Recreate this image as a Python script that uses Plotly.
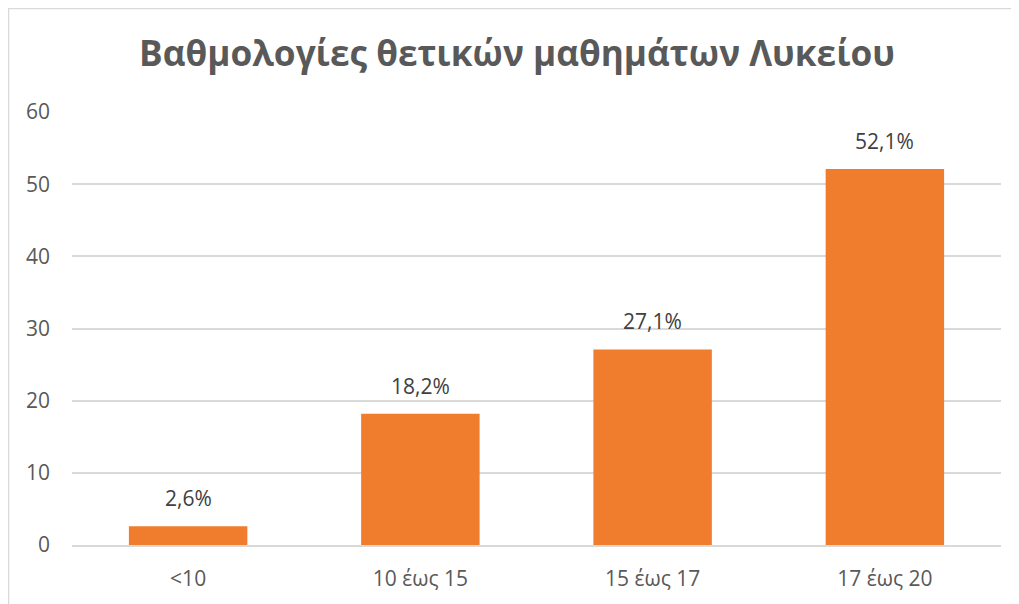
import plotly.graph_objects as go

categories = ["<10", "10 έως 15", "15 έως 17", "17 έως 20"]
values = [2.6, 18.2, 27.1, 52.1]
labels = ["2,6%", "18,2%", "27,1%", "52,1%"]
y_ticks = [0, 10, 20, 30, 40, 50, 60]

# page body has an 8px margin; figure offsets compensate for it
W, H = 1019, 604
L, R, T, B = 64, 26, 104, 67
pw, ph = W - L - R, H - T - B

FONT = "Open Sans"

fig = go.Figure()
fig.add_trace(go.Bar(
    x=categories, y=values,
    marker=dict(color="#F07C2D", line=dict(width=0)),
    width=0.51,
))

for c, v, t in zip(categories, values, labels):
    fig.add_annotation(x=c, y=v, text=t, showarrow=False, yanchor="bottom",
                       yshift=12, font=dict(family=FONT, size=21, color="#404040"))

fig.update_layout(
    width=W, height=H,
    margin=dict(l=L, r=R, t=T, b=B),
    paper_bgcolor="white", plot_bgcolor="white",
    showlegend=False,
    title=dict(text="<b>Βαθμολογίες θετικών μαθημάτων Λυκείου</b>",
               x=(517 - 8) / W, xanchor="center", y=1 - 46 / H, yanchor="middle",
               font=dict(family=FONT, size=35.2, color="#595959")),
    xaxis=dict(showgrid=False, showline=True, linecolor="#D9D9D9", linewidth=1.5,
               ticks="", tickfont=dict(family=FONT, size=21, color="#595959"),
               ticklabelstandoff=14),
    yaxis=dict(range=[0, 60], tickvals=y_ticks, showgrid=True, gridcolor="#D9D9D9",
               gridwidth=1.5, zeroline=False, showline=False, ticks="",
               tickfont=dict(family=FONT, size=21, color="#595959"),
               ticklabelstandoff=21),
    shapes=[
        dict(type="line", xref="paper", yref="paper",
             x0=(0 - L) / pw, x1=(W - L) / pw, y0=(H - B - 0.5) / ph, y1=(H - B - 0.5) / ph,
             line=dict(color="#D9D9D9", width=1.5)),
        dict(type="line", xref="paper", yref="paper",
             x0=(0.5 - L) / pw, x1=(0.5 - L) / pw, y0=(H - B) / ph, y1=-B / ph,
             line=dict(color="#D9D9D9", width=1.5)),
    ],
)

fig.write_html("out.html")
